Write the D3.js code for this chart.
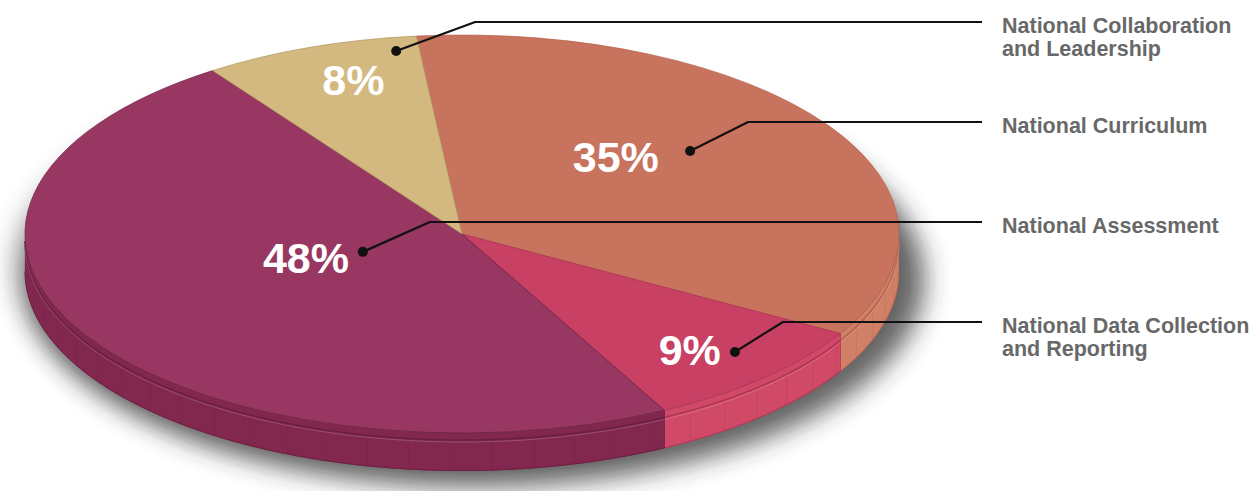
<!DOCTYPE html>
<html>
<head>
<meta charset="utf-8">
<script src="https://cdn.jsdelivr.net/npm/d3@7/dist/d3.min.js"></script>
<style>
  html, body { margin: 0; padding: 0; background: #ffffff; }
  svg { display: block; }
</style>
</head>
<body>
<svg id="chart" width="1254" height="491"></svg>
<script>
// ---------------- DATA ----------------
const categories = [
  "National Curriculum",
  "National Data Collection and Reporting",
  "National Assessment",
  "National Collaboration and Leadership"
];
const values = [35, 9, 48, 8];
const percentLabels = ["35%", "9%", "48%", "8%"];
const categoryLines = [
  ["National Curriculum"],
  ["National Data Collection", "and Reporting"],
  ["National Assessment"],
  ["National Collaboration", "and Leadership"]
];
// order of the callout labels from top to bottom
const legendOrder = [
  "National Collaboration and Leadership",
  "National Curriculum",
  "National Assessment",
  "National Data Collection and Reporting"
];

// ---------------- STYLE / LAYOUT ----------------
const topColors  = ["#C8735E", "#C84064", "#983762", "#D3B97F"];
const sideColors = ["#CF8066", "#D04A68", "#82284F", "#C3A86E"];
const rimColors  = ["#B5624E", "#B23455", "#6E1F42", "#B09760"];

const W = 1254, H = 491;
const cx = 462, cy = 234, rx = 437, ry = 199, depth = 38;
const startDeg = -6;

// percent label placement (polar on the ellipse: angle deg clockwise from north, radius fraction)
const pctLayout = [
  { a: 42.3, r: 0.523 },
  { a: 138.2, r: 0.782 },
  { a: 251.3, r: 0.377 },
  { a: -17.8, r: 0.813 }
];
// callout dot placement and diagonal run to elbow
const dotLayout = [
  { a: 51.4, r: 0.668, run: 58 },
  { a: 133.5, r: 0.861, run: 48 },
  { a: 248.4, r: 0.244, run: 67 },
  { a: -9.3, r: 0.932, run: 79 }
];
const lineEndX = 982, labelX = 1002;

// ---------------- SETUP ----------------
const svg = d3.select("#chart");
const defs = svg.append("defs");
const blur = defs.append("filter").attr("id", "shadowBlur")
  .attr("x", "-20%").attr("y", "-30%").attr("width", "140%").attr("height", "160%");
blur.append("feGaussianBlur").attr("stdDeviation", 13);

const rad = d => d * Math.PI / 180;
const pie = d3.pie().sort(null).value(d => d)
  .startAngle(rad(startDeg)).endAngle(rad(startDeg) + 2 * Math.PI);
const arcsData = pie(values);

// scales mapping unit-circle coordinates to the tilted ellipse
const xS = d3.scaleLinear().domain([-1, 1]).range([cx - rx, cx + rx]);
const yS = d3.scaleLinear().domain([-1, 1]).range([cy - ry, cy + ry]);
const pt = (a, r = 1, dy = 0) => [xS(r * Math.sin(a)), yS(-r * Math.cos(a)) + dy];

// label y positions
const yLabel = d3.scalePoint().domain(legendOrder).range([22, 322]);

// ---------------- SHADOW ----------------
svg.append("ellipse")
  .attr("cx", cx + 14).attr("cy", cy + 46)
  .attr("rx", rx + 12).attr("ry", ry + 8)
  .attr("fill", "#2a2a2a").attr("opacity", 0.7)
  .attr("filter", "url(#shadowBlur)");
svg.append("ellipse")
  .attr("cx", cx - 6).attr("cy", cy + 30)
  .attr("rx", rx + 6).attr("ry", ry + 4)
  .attr("fill", "#3a3a3a").attr("opacity", 0.35)
  .attr("filter", "url(#shadowBlur)");

// ---------------- SIDES ----------------
const line = d3.line();
const sideG = svg.append("g");
arcsData.forEach((d, i) => {
  const a0 = Math.max(d.startAngle, Math.PI / 2);
  const a1 = Math.min(d.endAngle, 3 * Math.PI / 2);
  if (a1 <= a0) return;
  const n = Math.max(2, Math.ceil((a1 - a0) / rad(1)));
  const angs = d3.range(n + 1).map(k => a0 + (a1 - a0) * k / n);
  const topPts = angs.map(a => pt(a));
  const botPts = angs.slice().reverse().map(a => pt(a, 1, depth));
  sideG.append("path")
    .attr("d", line(topPts.concat(botPts)) + "Z")
    .attr("fill", sideColors[i]);
  // faint facet lines
  const step = rad(5.5);
  for (let a = Math.ceil(a0 / step) * step; a < a1; a += step) {
    const p0 = pt(a, 1, 9), p1 = pt(a, 1, depth);
    sideG.append("line")
      .attr("x1", p0[0]).attr("y1", p0[1]).attr("x2", p1[0]).attr("y2", p1[1])
      .attr("stroke", rimColors[i]).attr("stroke-opacity", 0.35).attr("stroke-width", 0.8);
  }
  // rim lines (bevel)
  sideG.append("path")
    .attr("d", line(angs.map(a => pt(a, 1, 7))))
    .attr("fill", "none").attr("stroke", rimColors[i]).attr("stroke-width", 1.6);
  sideG.append("path")
    .attr("d", line(angs.map(a => pt(a, 1, 9))))
    .attr("fill", "none").attr("stroke", "#ffffff").attr("stroke-opacity", 0.18).attr("stroke-width", 1);
  sideG.append("path")
    .attr("d", line(angs.map(a => pt(a, 1, depth - 0.5))))
    .attr("fill", "none").attr("stroke", rimColors[i]).attr("stroke-width", 1);
  // slice-boundary edges on the side
  [d.startAngle, d.endAngle].forEach(a => {
    if (a > Math.PI / 2 && a < 3 * Math.PI / 2) {
      const p0 = pt(a), p1 = pt(a, 1, depth);
      sideG.append("line")
        .attr("x1", p0[0]).attr("y1", p0[1]).attr("x2", p1[0]).attr("y2", p1[1])
        .attr("stroke", rimColors[i]).attr("stroke-opacity", 0.6).attr("stroke-width", 1);
    }
  });
});

// ---------------- TOP FACE ----------------
const arc = d3.arc().innerRadius(0).outerRadius(rx);
const topG = svg.append("g")
  .attr("transform", `translate(${cx},${cy}) scale(1,${ry / rx})`);
topG.selectAll("path.slice")
  .data(arcsData)
  .join("path")
  .attr("class", "slice")
  .attr("d", arc)
  .attr("fill", (d, i) => topColors[i])
  .attr("stroke", (d, i) => rimColors[i])
  .attr("stroke-width", 1)
  .attr("stroke-opacity", 0.7)
  .attr("vector-effect", "non-scaling-stroke");

// ---------------- PERCENT LABELS ----------------
svg.append("g").selectAll("text")
  .data(arcsData)
  .join("text")
  .attr("x", (d, i) => pt(rad(pctLayout[i].a), pctLayout[i].r)[0])
  .attr("y", (d, i) => pt(rad(pctLayout[i].a), pctLayout[i].r)[1])
  .attr("dy", "0.35em")
  .attr("text-anchor", "middle")
  .attr("font-family", "'Liberation Sans', Arial, Helvetica, sans-serif")
  .attr("font-weight", "bold")
  .attr("font-size", 43)
  .attr("fill", "#ffffff")
  .text((d, i) => percentLabels[i]);

// ---------------- CALLOUTS ----------------
const calloutG = svg.append("g");
categories.forEach((c, i) => {
  const L = dotLayout[i];
  const [dx, dy] = pt(rad(L.a), L.r);
  const ly = yLabel(c);
  calloutG.append("path")
    .attr("d", line([[dx, dy], [dx + L.run, ly], [lineEndX, ly]]))
    .attr("fill", "none").attr("stroke", "#111").attr("stroke-width", 2.2)
    .attr("stroke-linejoin", "round");
  calloutG.append("circle")
    .attr("cx", dx).attr("cy", dy).attr("r", 5).attr("fill", "#111");
  const t = calloutG.append("text")
    .attr("x", labelX).attr("y", ly + 10.5)
    .attr("font-family", "'Liberation Sans', Arial, Helvetica, sans-serif")
    .attr("font-weight", "bold")
    .attr("font-size", 21.5)
    .attr("fill", "#686868");
  categoryLines[i].forEach((s, k) => {
    t.append("tspan").attr("x", labelX).attr("dy", k === 0 ? 0 : 23.5).text(s);
  });
});
</script>
</body>
</html>
